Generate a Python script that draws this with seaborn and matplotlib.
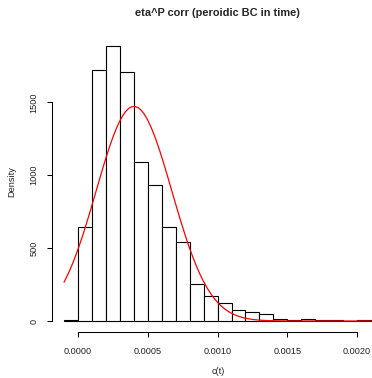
import numpy as np
import pandas as pd
import matplotlib
matplotlib.use("Agg")
import matplotlib.pyplot as plt
import seaborn as sns

# ---- data ----
bin_edges = [-0.0001, 0.0000, 0.0001, 0.0002, 0.0003, 0.0004, 0.0005, 0.0006,
             0.0007, 0.0008, 0.0009, 0.0010, 0.0011, 0.0012, 0.0013, 0.0014,
             0.0015, 0.0016, 0.0017, 0.0018, 0.0019, 0.0020, 0.0021]
densities = [5, 643, 1724, 1888, 1706, 1093, 930, 647, 542, 253, 173, 121,
             75, 64, 50, 11, 5, 11, 4, 7, 1, 4]
fit_mean = 0.000401
fit_sd = 0.000271
x_ticks = [0.0, 0.0005, 0.0010, 0.0015, 0.0020]
x_tick_labels = ["0.0000", "0.0005", "0.0010", "0.0015", "0.0020"]
y_ticks = [0, 500, 1000, 1500]
y_tick_labels = ["0", "500", "1000", "1500"]
title = "eta^P corr (peroidic BC in time)"
xlabel = "c(t)"
ylabel = "Density"

sns.set_style("white")
plt.rcParams['font.family'] = ['Liberation Sans', 'DejaVu Sans']

W, H = 372, 378
fig = plt.figure(figsize=(W / 100, H / 100), dpi=100)
ax = fig.add_axes([51.8 / W, 46 / H, 331.5 / W, 297.3 / H])

centers = [(a + b) / 2 for a, b in zip(bin_edges[:-1], bin_edges[1:])]
df = pd.DataFrame({"x": centers, "w": densities})
sns.histplot(data=df, x="x", weights="w", bins=list(bin_edges), stat="count",
             color="white", edgecolor="black", linewidth=0.8, alpha=1,
             ax=ax)

xs = np.linspace(bin_edges[0], bin_edges[-1], 101)
ys = np.exp(-0.5 * ((xs - fit_mean) / fit_sd) ** 2) / (fit_sd * np.sqrt(2 * np.pi))
sns.lineplot(x=xs, y=ys, color="red", linewidth=0.9, ax=ax)

ax.set_xlim(-0.000188, 0.002188)
ax.set_ylim(-75.5, 1963.5)
ax.set_xlabel("")
ax.set_ylabel("")

for s in ["top", "right"]:
    ax.spines[s].set_visible(False)
ax.spines["left"].set_bounds(0, 1500)
ax.spines["bottom"].set_bounds(0, 0.0020)
for s in ["left", "bottom"]:
    ax.spines[s].set_linewidth(0.75)
    ax.spines[s].set_color("black")

ax.set_xticks(x_ticks)
ax.set_xticklabels(x_tick_labels)
ax.set_yticks(y_ticks)
ax.set_yticklabels(y_tick_labels, rotation=90, va="center")
ax.tick_params(axis="both", which="major", length=3.6, width=0.75,
               colors="black", labelsize=6.6, direction="out",
               bottom=True, left=True)
ax.tick_params(axis="x", pad=7.5)
ax.tick_params(axis="y", pad=6)
for lab in ax.get_xticklabels() + ax.get_yticklabels():
    lab.set_color("#222222")

fig.text(217 / W, 1 - 12.7 / H, title, ha="center", va="center",
         fontsize=7.9, fontweight="bold")
fig.text(218 / W, 1 - 372 / H, xlabel, ha="center", va="center",
         fontsize=6.6, color="#222222")
fig.text(12 / W, 1 - 182 / H, ylabel, ha="center", va="center",
         fontsize=6.6, rotation=90, color="#222222")

fig.savefig("out.png", dpi=100)
